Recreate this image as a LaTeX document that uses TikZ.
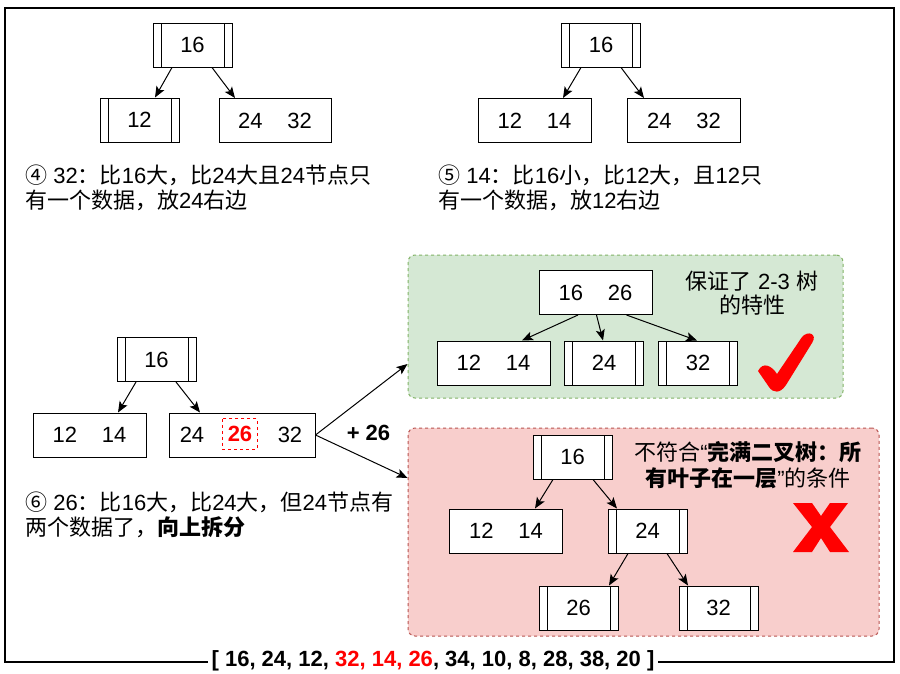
\documentclass[tikz,border=0pt]{standalone}
\usepackage{fontspec}
\setmainfont{Liberation Sans}
\newfontfamily\cjk{Noto Sans CJK SC}
\usetikzlibrary{arrows.meta}
\newcommand\zhx[1]{{\cjk #1}}
\definecolor{gfill}{HTML}{D5E8D4}
\definecolor{gline}{HTML}{82B366}
\definecolor{rfill}{HTML}{F8CECC}
\definecolor{rline}{HTML}{B85450}
\definecolor{mred}{HTML}{FF0000}
\begin{document}
\begin{tikzpicture}[x=1pt,y=-1pt,
  font=\fontsize{22}{25}\selectfont,
  box/.style={draw, fill=white, line width=1pt, minimum height=44pt, inner sep=0pt},
  twobox/.style={box, minimum width=113pt},
  proc/.style={box, minimum width=79pt,
    path picture={
      \draw[line width=1pt] ([xshift=8pt]path picture bounding box.north west) -- ([xshift=8pt]path picture bounding box.south west);
      \draw[line width=1pt] ([xshift=-8pt]path picture bounding box.north east) -- ([xshift=-8pt]path picture bounding box.south east);}},
  arr/.style={-{Stealth[length=11pt,width=9pt,inset=2.5pt]}, line width=1pt},
  dashpat/.style={dash pattern=on 3pt off 3pt},
  txt/.style={anchor=base west, inner sep=0pt},
  ctxt/.style={anchor=base, inner sep=0pt},
]
\useasboundingbox (0,0) rectangle (900,673);
\fill[white] (0,0) rectangle (900,673);
\draw[line width=2.5pt] (5,8) rectangle (894,662);

% Panel 1
\node[proc] (a1) at (192.5,45) {16};
\node[proc] (a2) at (139.5,120) {12};
\node[box, minimum width=112pt] (a3) at (275,120.5) {24\hspace{25pt}32};
\draw[arr] ([xshift=-20.5pt]a1.south) -- ([xshift=15.5pt]a2.north);
\draw[arr] ([xshift=19.5pt]a1.south) -- ([xshift=-40pt]a3.north);
\node[txt] (t1a) at (25,183) {\zhx{④} 32\zhx{：比}16\zhx{大，比}24\zhx{大且}24\zhx{节点只}};
\node[txt] (t1b) at (25,208) {\zhx{有一个数据，放}24\zhx{右边}};

% Panel 2
\node[proc] (b1) at (601,45) {16};
\node[twobox] (b2) at (534.5,120.5) {12\hspace{25pt}14};
\node[twobox] (b3) at (684,120.5) {24\hspace{25pt}32};
\draw[arr] ([xshift=-20pt]b1.south) -- ([xshift=28.5pt]b2.north);
\draw[arr] ([xshift=20pt]b1.south) -- ([xshift=-40pt]b3.north);
\node[txt] (t2a) at (438,183) {\zhx{⑤} 14\zhx{：比}16\zhx{小，比}12\zhx{大，且}12\zhx{只}};
\node[txt] (t2b) at (438,208) {\zhx{有一个数据，放}12\zhx{右边}};

% Panel 3
\node[proc] (c1) at (156.5,359.5) {16};
\node[twobox] (c2) at (89.5,435) {12\hspace{25pt}14};
\node[box, minimum width=146pt] (c3) at (242,435) {};
\node[inner sep=0pt] (c3a) at (192,435) {24};
\node[minimum width=34pt, minimum height=30pt, inner sep=0pt, text=mred, font=\fontsize{22}{25}\selectfont\bfseries] (c3b) at (240,434) {26};
\draw[draw=mred, dashpat, line width=1.3pt] (c3b.north west) rectangle (c3b.south east);
\node[inner sep=0pt] (c3c) at (290,435) {32};
\draw[arr] ([xshift=-20.5pt]c1.south) -- ([xshift=28.5pt]c2.north);
\draw[arr] ([xshift=19.5pt]c1.south) -- ([xshift=-42pt]c3.north);
\node[txt] (t3a) at (25,510) {\zhx{⑥} 26\zhx{：比}16\zhx{大，比}24\zhx{大，但}24\zhx{节点有}};
\node[txt] (t3b) at (25,535) {\zhx{两个数据了，}{\cjk\bfseries 向上拆分}};

% Green box
\node[draw=gline, fill=gfill, dashpat, line width=1pt, rounded corners=7pt, minimum width=435pt, minimum height=143pt] (g0) at (625.5,326.5) {};
\node[twobox] (g1) at (595.5,292.5) {16\hspace{25pt}26};
\node[twobox] (g2) at (493.5,363) {12\hspace{25pt}14};
\node[proc] (g3) at (604,363) {24};
\node[proc] (g4) at (698,363) {32};
\draw[arr] ([xshift=-17.5pt]g1.south) -- ([xshift=28.5pt]g2.north);
\draw[arr] ([xshift=1pt]g1.south) -- ([xshift=-1pt]g3.north);
\draw[arr] ([xshift=31pt]g1.south) -- ([xshift=-1pt]g4.north);
\node[ctxt] (gt1) at (752,289) {\zhx{保证了} 2-3 \zhx{树}};
\node[ctxt] (gt2) at (752.5,313) {\zhx{的特性}};
\fill[mred] (758,371) .. controls (763,361) and (772,366) .. (777,374)
  -- (802,337) .. controls (808,330) and (818,334) .. (812,343)
  -- (786,385) .. controls (780,394) and (773,393) .. (769,387) -- cycle;

% Red box
\node[draw=rline, fill=rfill, dashpat, line width=1pt, rounded corners=7pt, minimum width=471pt, minimum height=208pt] (r0) at (643.5,532) {};
\node[proc] (r1) at (572.5,457) {16};
\node[twobox] (r2) at (506,531) {12\hspace{25pt}14};
\node[proc] (r3) at (647.5,531) {24};
\node[proc] (r4) at (578.5,608) {26};
\node[proc] (r5) at (718.5,608) {32};
\draw[arr] ([xshift=-19.5pt]r1.south) -- ([xshift=29pt]r2.north);
\draw[arr] ([xshift=20.5pt]r1.south) -- ([xshift=-30.5pt]r3.north);
\draw[arr] ([xshift=-19.5pt]r3.south) -- ([xshift=30.5pt]r4.north);
\draw[arr] ([xshift=19.5pt]r3.south) -- ([xshift=-30.5pt]r5.north);
\node[ctxt] (rt1) at (748,460) {\zhx{不符合}“{\cjk\bfseries 完满二叉树：所}};
\node[ctxt] (rt2) at (748,486) {{\cjk\bfseries 有叶子在一层}”\zhx{的条件}};
\fill[mred] (793,503) -- (812,503) -- (821,516) -- (830,503) -- (848,503)
  -- (830,527) -- (849,552) -- (830,552) -- (821,538) -- (812,552)
  -- (793,552) -- (812,527) -- cycle;

% Split arrows
\draw[arr] (c3.east) -- ([yshift=-37.5pt]g0.west);
\draw[arr] (c3.east) -- ([yshift=54pt]r0.west);
\node[ctxt, font=\fontsize{22}{25}\selectfont\bfseries] (plus) at (368.5,440) {+ 26};

% Sequence
\node[fill=white, inner xsep=4pt, inner ysep=3pt, anchor=base, font=\fontsize{22}{25}\selectfont\bfseries] (seq) at (433,666) {[ 16, 24, 12, \textcolor{mred}{32, 14, 26}, 34, 10, 8, 28, 38, 20 ]};
\end{tikzpicture}
\end{document}
